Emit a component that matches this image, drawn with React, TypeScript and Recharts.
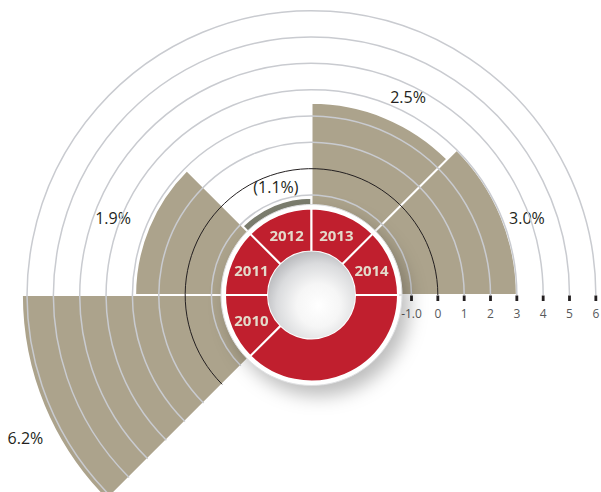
import React from 'react';
import {
  RadialBarChart,
  RadialBar,
  PolarAngleAxis,
  PolarRadiusAxis,
  PieChart,
  Pie,
  Sector,
} from 'recharts';

// ---- data ----
const years = ['2010', '2011', '2012', '2013', '2014'];
const growth = [6.2, 1.9, -1.1, 2.5, 3.0];
const radiusTicks = [-1, 0, 1, 2, 3, 4, 5, 6];
const radiusTickLabels = ['-1.0', '0', '1', '2', '3', '4', '5', '6'];
const BAR_BASE = -1.5;
const RADIUS_DOMAIN: [number, number] = [-2, 7];
const ringSpans = [1, 1, 1, 1, 1, 3];

// ---- layout / style ----
const W = 601;
const H = 492;
const CX = 311.5;
const CY = 295;
const ARC_END = 225; // where the grid arcs stop (lower-left edge of 2010 wedge)
const CHART_START = 180; // recharts places the first band one band past its start angle
const CHART_END = -45;
const INNER = 73.67;
const OUTER = 310.67;
const FONT = '"Open Sans", "Noto Sans", sans-serif';

const LABEL_NUDGE: Record<string, { dr: number; da: number }> = {
  '2010': { dr: 30, da: 4 },
  '2011': { dr: 36.5, da: 1.3 },
  '2012': { dr: 16.5, da: -4.3 },
  '2013': { dr: 28, da: -3.5 },
  '2014': { dr: 23.5, da: -2.8 },
};

const barData = years.map((y, i) => ({ year: y, range: [BAR_BASE, growth[i]], growth: growth[i] }));
const ringData = ringSpans.map((s, i) => ({ name: years[i] ?? '', span: s }));
const discData = [{ name: 'disc', span: 1 }];

const BarShape = (props: any) => {
  const { cx, cy, innerRadius, outerRadius, startAngle, endAngle, payload } = props;
  const v: number = payload.growth;
  const fill = v < 0 ? '#7b7d6e' : '#aca38c';
  const nudge = LABEL_NUDGE[payload.year] || { dr: 26, da: 0 };
  const mid = (startAngle + endAngle) / 2 + nudge.da;
  const r = outerRadius + nudge.dr;
  const rad = (mid * Math.PI) / 180;
  const x = cx + r * Math.cos(rad);
  const y = cy - r * Math.sin(rad);
  const label = v < 0 ? `(${Math.abs(v).toFixed(1)}%)` : `${v.toFixed(1)}%`;
  return (
    <g>
      <Sector
        cx={cx}
        cy={cy}
        innerRadius={innerRadius}
        outerRadius={outerRadius}
        startAngle={startAngle}
        endAngle={endAngle}
        fill={fill}
        stroke="#ffffff"
        strokeWidth={2}
      />
      <text
        x={x}
        y={y}
        textAnchor="middle"
        dominantBaseline="central"
        fontSize={16}
        fontFamily={FONT}
        fill="#231f20"
      >
        {label}
      </text>
    </g>
  );
};

const RadiusTick = (props: any) => {
  const { x, y, payload } = props;
  const r: number = payload.coordinate;
  const cx = x - r;
  const cy = y;
  const a = (ARC_END * Math.PI) / 180;
  const ex = cx + r * Math.cos(a);
  const ey = cy - r * Math.sin(a);
  const isZero = payload.value === 0;
  const idx = radiusTicks.indexOf(payload.value);
  const text = idx >= 0 ? radiusTickLabels[idx] : String(payload.value);
  return (
    <g>
      <path
        d={`M ${x} ${y} A ${r} ${r} 0 1 0 ${ex} ${ey}`}
        fill="none"
        stroke={isZero ? '#231f20' : '#c9cbd0'}
        strokeWidth={isZero ? 1 : 1.5}
      />
      <rect x={x - 1.4} y={y + 0.5} width={2.8} height={5.5} fill="#231f20" />
      <text
        x={x}
        y={y + 18}
        textAnchor="middle"
        dominantBaseline="central"
        fontSize={12}
        fontFamily={FONT}
        fill="#58595b"
      >
        {text}
      </text>
    </g>
  );
};

const RingLabel = (props: any) => {
  const { cx, cy, innerRadius, outerRadius, startAngle, endAngle } = props;
  const name = props.payload?.name ?? props.name;
  if (!name) return null;
  const mid = props.midAngle ?? (startAngle + endAngle) / 2;
  const r = (innerRadius + outerRadius) / 2;
  const rad = (mid * Math.PI) / 180;
  const x = cx + r * Math.cos(rad);
  const y = cy - r * Math.sin(rad);
  return (
    <text
      x={x}
      y={y}
      textAnchor="middle"
      dominantBaseline="central"
      fontSize={15}
      fontWeight="bold"
      fontFamily={FONT}
      fill="#e4dbcb"
    >
      {name}
    </text>
  );
};

export default function App() {
  const margin = { top: 0, right: 0, bottom: 0, left: 0 };
  return (
    <div style={{ position: 'absolute', left: 0, top: 0, width: W, height: H, background: '#fff', fontFamily: FONT }}>
      <svg width={0} height={0} style={{ position: 'absolute' }}>
        <defs>
          <radialGradient id="holeGrad" cx="58%" cy="62%" r="62%">
            <stop offset="0%" stopColor="#ffffff" />
            <stop offset="40%" stopColor="#f6f6f6" />
            <stop offset="78%" stopColor="#dadbdd" />
            <stop offset="100%" stopColor="#bdbec1" />
          </radialGradient>
        </defs>
      </svg>
      <div style={{ position: 'absolute', left: 0, top: 0 }}>
        <RadialBarChart
          width={W}
          height={H}
          data={barData}
          layout="centric"
          cx={CX}
          cy={CY}
          innerRadius={INNER}
          outerRadius={OUTER}
          startAngle={CHART_START}
          endAngle={CHART_END}
          barCategoryGap="0%"
          barGap={0}
          margin={margin}
        >
          <PolarAngleAxis dataKey="year" type="category" tick={false} axisLine={false} tickLine={false} />
          <RadialBar dataKey="range" isAnimationActive={false} shape={BarShape} />
          <PolarRadiusAxis
            type="number"
            domain={RADIUS_DOMAIN}
            ticks={radiusTicks}
            angle={0}
            axisLine={false}
            tickLine={false}
            tick={RadiusTick}
            allowDataOverflow
          />
        </RadialBarChart>
      </div>
      <div
        style={{
          position: 'absolute',
          left: 0,
          top: 0,
          pointerEvents: 'none',
          filter: 'drop-shadow(7px 10px 9px rgba(0,0,0,0.26))',
        }}
      >
        <PieChart width={W} height={H} margin={margin}>
          <Pie
            data={discData}
            dataKey="span"
            cx={CX}
            cy={CY}
            innerRadius={0}
            outerRadius={90.5}
            fill="#ffffff"
            stroke="#dedfe1"
            strokeWidth={1}
            isAnimationActive={false}
          />
          <Pie
            data={ringData}
            dataKey="span"
            cx={CX}
            cy={CY}
            innerRadius={43.5}
            outerRadius={86.5}
            startAngle={ARC_END}
            endAngle={ARC_END - 360}
            fill="#c01f2e"
            stroke="#ffffff"
            strokeWidth={2}
            label={RingLabel}
            labelLine={false}
            isAnimationActive={false}
          />
          <Pie
            data={discData}
            dataKey="span"
            cx={CX}
            cy={CY}
            innerRadius={0}
            outerRadius={43.5}
            fill="url(#holeGrad)"
            stroke="none"
            isAnimationActive={false}
          />
        </PieChart>
      </div>
    </div>
  );
}
